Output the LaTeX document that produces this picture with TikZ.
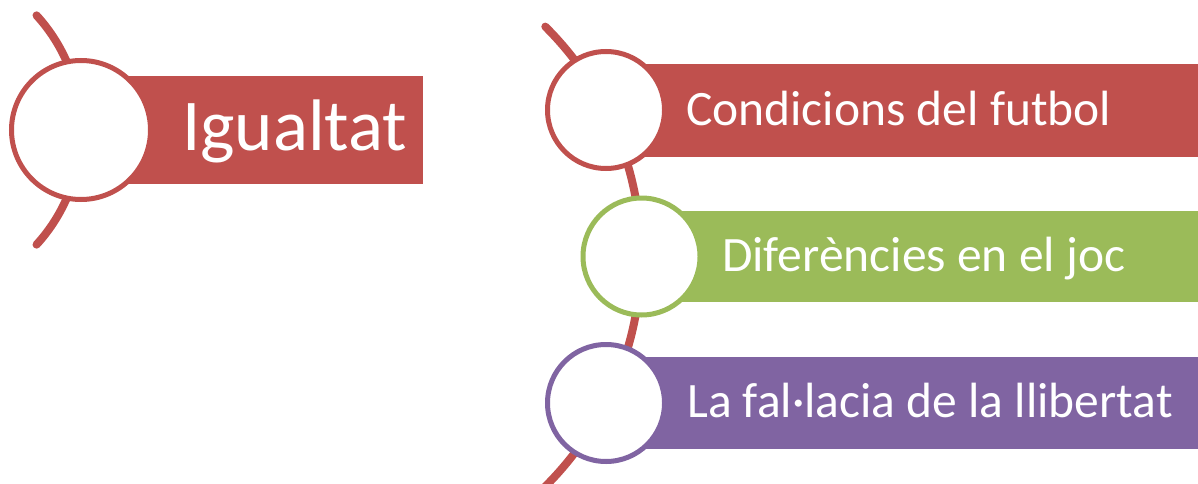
\documentclass[tikz,border=0pt]{standalone}
\usepackage{fontspec}
\setmainfont{Carlito}
\definecolor{cred}{HTML}{C0504D}
\definecolor{cgreen}{HTML}{9BBB59}
\definecolor{cpurple}{HTML}{8064A2}
\begin{document}
\begin{tikzpicture}[x=1pt,y=-1pt,
  spine/.style={draw=cred,line width=8pt,line cap=round},
  bullet/.style={circle,draw=#1,line width=5pt,fill=white,inner sep=0pt},
  label/.style={anchor=base west,inner sep=0pt,text=white},
  itemtext/.style={label,font=\fontsize{49.5}{50}\selectfont},
]
\useasboundingbox (0,0) rectangle (1198,484);
% left group
\draw[spine] (-89,130) ++(-42.4:170) arc[start angle=-42.4,end angle=42.4,radius=170];
\fill[cred] (81,76) rectangle (423,184);
\node[bullet=cred,minimum size=139pt] (c0) at (81,130) {};
\node[label,font=\fontsize{73}{73}\selectfont] (t0) at (182,150) {Igualtat};
% right group
\draw[spine] (317,256.5) ++(-45.2:324) arc[start angle=-45.2,end angle=46,radius=324];
\fill[cred] (606,64) rectangle (1198,157);
\fill[cgreen] (641,211) rectangle (1198,302);
\fill[cpurple] (606,357) rectangle (1198,449);
\node[bullet=cred,minimum size=117pt] (c1) at (606,110) {};
\node[bullet=cgreen,minimum size=117pt] (c2) at (641.5,256.5) {};
\node[bullet=cpurple,minimum size=117pt] (c3) at (606,403) {};
\node[itemtext] (t1) at (686,125) {Condicions del futbol};
\node[itemtext] (t2) at (722,271) {Diferències en el joc};
\node[itemtext] (t3) at (687,417) {La fal·lacia de la llibertat};
\end{tikzpicture}
\end{document}
